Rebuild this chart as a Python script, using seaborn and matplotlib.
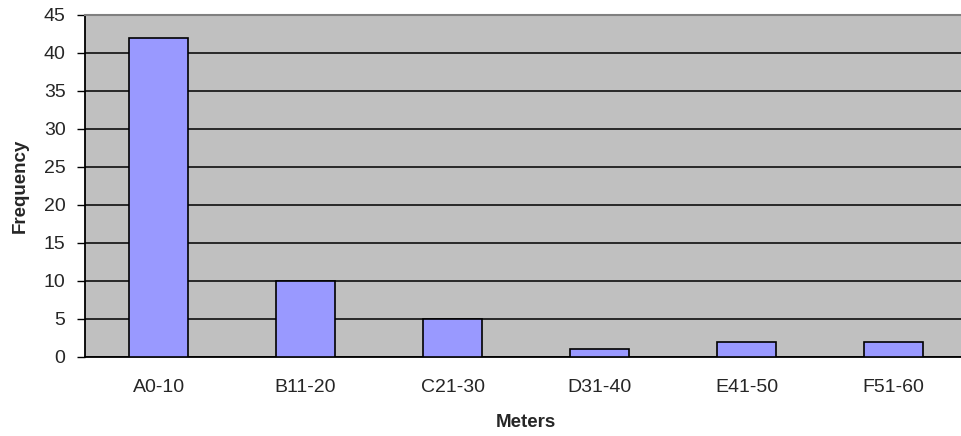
import seaborn as sns
import matplotlib.pyplot as plt
import numpy as np
import pandas as pd

# data
categories = ['A0-10', 'B11-20', 'C21-30', 'D31-40', 'E41-50', 'F51-60']
frequency = [42, 10, 5, 1, 2, 2]

df = pd.DataFrame({'Meters': categories, 'Frequency': frequency})

sns.set_style('white')
plt.rcParams['font.family'] = ['Liberation Sans', 'DejaVu Sans']

fig = plt.figure(figsize=(9.61, 4.36), dpi=100)
# plot area runs a little past the right edge, like the original
ax = fig.add_axes([0.0885, 0.1812, 0.9178, 0.7844])
ax.set_facecolor('#C0C0C0')

sns.barplot(x='Meters', y='Frequency', data=df, color='#9999FF', saturation=1,
            edgecolor='black', linewidth=1.2, width=0.40, ax=ax, zorder=3)

# horizontal gridlines like excel
ax.set_axisbelow(True)
ax.yaxis.grid(True, color='black', linewidth=1.1)
ax.set_ylim(0, 45)
ax.set_yticks(np.arange(0, 46, 5))
ax.set_xlim(-0.5, len(categories) - 0.5)

# ticks between categories
ax.set_xticks(np.arange(-0.5, len(categories), 1), minor=True)
ax.tick_params(axis='x', which='major', length=0, pad=16, labelsize=14)
ax.tick_params(axis='x', which='minor', length=4.5, width=1, color='black', direction='out')
ax.tick_params(axis='y', length=6, width=1, color='black', direction='out', labelsize=14, pad=8)
ax.xaxis.set_tick_params(bottom=True)
ax.yaxis.set_tick_params(left=True)

for side in ['left', 'bottom']:
    ax.spines[side].set_color('black')
    ax.spines[side].set_linewidth(1.3)
ax.spines['top'].set_color('#808080')
ax.spines['top'].set_linewidth(1.5)
ax.spines['right'].set_visible(False)

ax.set_xlabel('Meters', fontsize=13.5, fontweight='bold', labelpad=13)
ax.set_ylabel('Frequency', fontsize=13.5, fontweight='bold', labelpad=11)

plt.savefig('out.png', dpi=100)
